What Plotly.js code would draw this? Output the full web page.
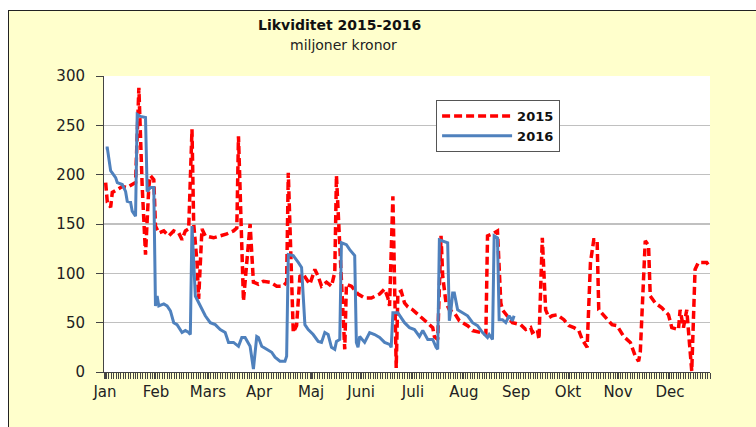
<!DOCTYPE html>
<html>
<head>
<meta charset="utf-8">
<script src="https://cdn.plot.ly/plotly-3.0.1.min.js"></script>
<style>
html,body{margin:0;padding:0;background:#ffffff;}
#frame{position:absolute;left:8px;top:10px;width:800px;height:500px;background:#FFFFCC;border-left:1.5px solid #222;border-top:1.5px solid #222;}
#chart{position:absolute;left:0;top:0;width:756px;height:427px;}
</style>
</head>
<body>
<div id="frame"></div>
<div id="chart"></div>
<script>
// Day of year (x) and value (miljoner kronor)
const days2015 = [1,2,4,5,8,11,14,17,19,21,23,25,27,28,30,31,33,36,39,42,45,47,49,51,53,54,56,57,59,61,66,70,74,78,80,81,84,88,90,93,96,100,104,108,110,111,114,116,118,120,122,124,127,129,131,134,137,139,140,143,145,146,149,153,157,161,166,169,171,172,174,176,177,179,181,183,186,190,195,198,199,201,203,204,206,208,211,214,219,222,227,230,231,234,237,238,239,240,243,246,251,254,257,258,261,262,264,266,268,270,273,277,280,283,286,288,291,293,295,297,298,302,306,309,313,317,320,322,323,326,328,329,332,336,340,342,346,347,349,351,354,356,358,363,365];
const values2015 = [192,172,167,182,185,188,187,190,192,288,188,119,188,199,195,148,141,143,138,143,141,134,143,145,246,151,111,74,145,138,136,138,140,143,146,239,72,150,91,89,92,91,87,87,91,202,40,47,97,99,94,89,104,97,87,91,87,101,199,89,23,89,87,79,75,75,79,84,75,67,178,4,80,82,70,66,63,57,50,45,36,33,138,97,70,63,60,52,47,42,40,38,138,140,143,97,70,63,57,50,48,43,45,40,43,33,136,63,55,57,58,53,47,45,42,33,25,111,134,134,63,55,48,47,36,30,16,11,20,133,128,77,70,65,58,45,43,63,45,63,1,104,111,111,106];

const days2016 = [1,2,4,5,7,8,11,13,14,16,17,19,20,22,25,26,28,30,31,32,33,36,38,40,42,44,47,49,51,52,53,55,58,61,64,67,70,73,75,78,81,83,85,88,90,92,93,95,98,101,103,106,109,110,111,114,117,119,121,123,126,129,131,133,135,137,139,140,142,143,146,148,151,152,153,154,157,160,163,166,169,172,173,174,177,180,181,184,187,190,192,195,198,200,201,202,204,207,208,209,210,211,213,216,219,222,225,228,231,232,234,235,237,238,240,242,244,246,247];
const values2016 = [227,227,204,202,197,192,190,183,173,172,163,158,261,259,258,183,187,187,67,77,67,69,67,62,50,48,40,42,40,38,148,77,67,57,50,48,43,40,30,30,26,35,35,26,3,36,35,26,23,20,15,11,11,16,119,118,111,106,48,43,38,31,30,40,38,25,23,31,33,131,129,124,118,30,25,36,30,40,38,35,30,28,25,60,60,53,50,45,43,36,42,33,33,25,23,134,133,131,52,63,80,80,63,60,57,50,47,40,35,38,33,138,136,53,53,50,57,52,57];

const monthLabels = ["Jan","Feb","Mars","Apr","Maj","Juni","Juli","Aug","Sep","Okt","Nov","Dec"];
const monthLabelDays = [0.6,31.3,62.6,93.4,124.7,154.8,186.1,216.8,248.2,279.5,309.6,340.9];
const yTicks = [0,50,100,150,200,250,300];

const FONT = "DejaVu Sans, sans-serif";

const traces = [
  {x: days2015, y: values2015, name: "2015", type: "scatter", mode: "lines",
   line: {color: "#FF0000", width: 3.5, dash: "8px,4px"}},
  {x: days2016, y: values2016, name: "2016", type: "scatter", mode: "lines",
   line: {color: "#4F81BD", width: 3}}
];

const layout = {
  width: 756, height: 427,
  margin: {l: 104, r: 46, t: 76, b: 55},
  paper_bgcolor: "rgba(0,0,0,0)",
  plot_bgcolor: "#FFFFFF",
  font: {family: FONT, color: "#222", size: 15},
  showlegend: true,
  legend: {x: 0.548, y: 0.919, xanchor: "left", yanchor: "top",
    bgcolor: "#FFFFFF", bordercolor: "#555", borderwidth: 1,
    font: {family: FONT, size: 13, color: "#111", weight: "bold"},
    itemwidth: 70, entrywidth: 80, entrywidthmode: "pixels",
    tracegroupgap: 2},
  xaxis: {range: [0, 365], tickmode: "array", tickvals: monthLabelDays, ticktext: monthLabels,
    showgrid: false, zeroline: false, showline: true, linecolor: "#444", linewidth: 1,
    ticks: "outside", ticklen: 6, tickcolor: "#444", tickfont: {size: 15, family: FONT, color: "#222"},
    minor: {tickmode: "linear", tick0: 0, dtick: 1.46, ticklen: 6, tickcolor: "#444", ticks: "outside", showgrid: false},
    fixedrange: true},
  yaxis: {range: [0, 300], tickmode: "array", tickvals: yTicks,
    showgrid: true, gridcolor: "#C0C0C0", gridwidth: 1.5, zeroline: false,
    showline: true, linecolor: "#444", linewidth: 1, ticks: "outside", ticklen: 7, tickcolor: "#444",
    ticklabelstandoff: 8, tickfont: {size: 15, family: FONT, color: "#222"}, fixedrange: true},
  annotations: [
    {text: "<b>Likviditet 2015-2016</b>", xref: "paper", yref: "paper", x: 0.389, y: 1.172,
     xanchor: "center", yanchor: "middle", showarrow: false, font: {size: 14, family: FONT, color: "#111"}},
    {text: "miljoner kronor", xref: "paper", yref: "paper", x: 0.396, y: 1.105,
     xanchor: "center", yanchor: "middle", showarrow: false, font: {size: 14, family: FONT, color: "#222"}}
  ]
};

Plotly.newPlot("chart", traces, layout, {displayModeBar: false, staticPlot: true});
</script>
</body>
</html>
